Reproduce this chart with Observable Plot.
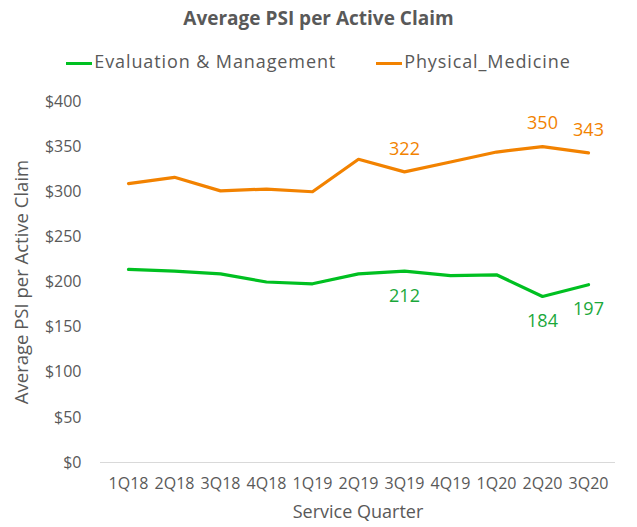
<!DOCTYPE html>
<html><head><meta charset="utf-8">
<script src="https://cdn.jsdelivr.net/npm/d3@7"></script>
<script src="https://cdn.jsdelivr.net/npm/@observablehq/plot@0.6"></script>
<style>
body{margin:0;background:#fff;font-family:"Open Sans",sans-serif;}
#wrap{width:637px;}
#title{height:36px;line-height:36px;text-align:center;font-weight:bold;font-size:19px;color:#595959;}
#legend{height:50px;display:flex;justify-content:center;align-items:center;gap:40px;font-size:18px;letter-spacing:0.9px;color:#595959;}
.sw{display:inline-block;width:26px;height:3px;vertical-align:middle;margin-right:2px;}
</style></head><body>
<div id="wrap">
<div id="title">Average PSI per Active Claim</div>
<div id="legend"></div>
<div id="chart"></div>
</div>
<script>
const quarters = ["1Q18","2Q18","3Q18","4Q18","1Q19","2Q19","3Q19","4Q19","1Q20","2Q20","3Q20"];
const evalMgmt = [214,212,209,200,198,209,212,207,208,184,197];
const physMed = [309,316,301,303,300,336,322,333,344,350,343];
const seriesNames = ["Evaluation & Management","Physical_Medicine"];
const seriesColors = ["#00c021","#f28200"];
const yTicks = [0,50,100,150,200,250,300,350,400];
const labeledEval = ["3Q19","2Q20","3Q20"];
const labeledPhys = ["3Q19","2Q20","3Q20"];

const rows = [];
quarters.forEach((q,i)=>{
  rows.push({q, v: evalMgmt[i], s: seriesNames[0]});
  rows.push({q, v: physMed[i], s: seriesNames[1]});
});
const evalLabels = rows.filter(d=>d.s===seriesNames[0] && labeledEval.includes(d.q));
const physLabels = rows.filter(d=>d.s===seriesNames[1] && labeledPhys.includes(d.q));

const leg = document.getElementById("legend");
seriesNames.forEach((n,i)=>{
  const s = document.createElement("span");
  s.innerHTML = `<span class="sw" style="background:${seriesColors[i]}"></span>${n.replace("&","&amp;")}`;
  leg.appendChild(s);
});

const plot = Plot.plot({
  width: 637,
  height: 441,
  marginTop: 15,
  marginBottom: 65,
  marginLeft: 100,
  marginRight: 22,
  style: {fontFamily: "Open Sans, sans-serif", fontSize: "16px", color: "#595959", background: "#fff"},
  x: {type: "point", domain: quarters, padding: 0.5, label: null, tickSize: 0, tickPadding: 15},
  y: {domain: [0,400], label: null, ticks: yTicks, tickSize: 0, tickPadding: 19, tickFormat: d => "$" + d},
  color: {domain: seriesNames, range: seriesColors},
  marks: [
    Plot.ruleY([0], {stroke: "#d9d9d9", strokeWidth: 1}),
    Plot.line(rows, {x: "q", y: "v", z: "s", stroke: "s", strokeWidth: 3.2, curve: "linear"}),
    Plot.text(physLabels, {x: "q", y: "v", text: d => String(d.v), dy: -23, fill: seriesColors[1], fontSize: 18}),
    Plot.text(evalLabels, {x: "q", y: "v", text: d => String(d.v), dy: 25, fill: "#1aa83a", fontSize: 18}),
    Plot.text(["Service Quarter"], {frameAnchor: "bottom", dy: 55, fontSize: 18, fill: "#595959"}),
    Plot.text(["Average PSI per Active Claim"], {frameAnchor: "left", textAnchor: "middle", dx: -78, rotate: -90, fontSize: 18.5, fill: "#595959"})
  ]
});
document.getElementById("chart").appendChild(plot);
</script>
</body></html>
